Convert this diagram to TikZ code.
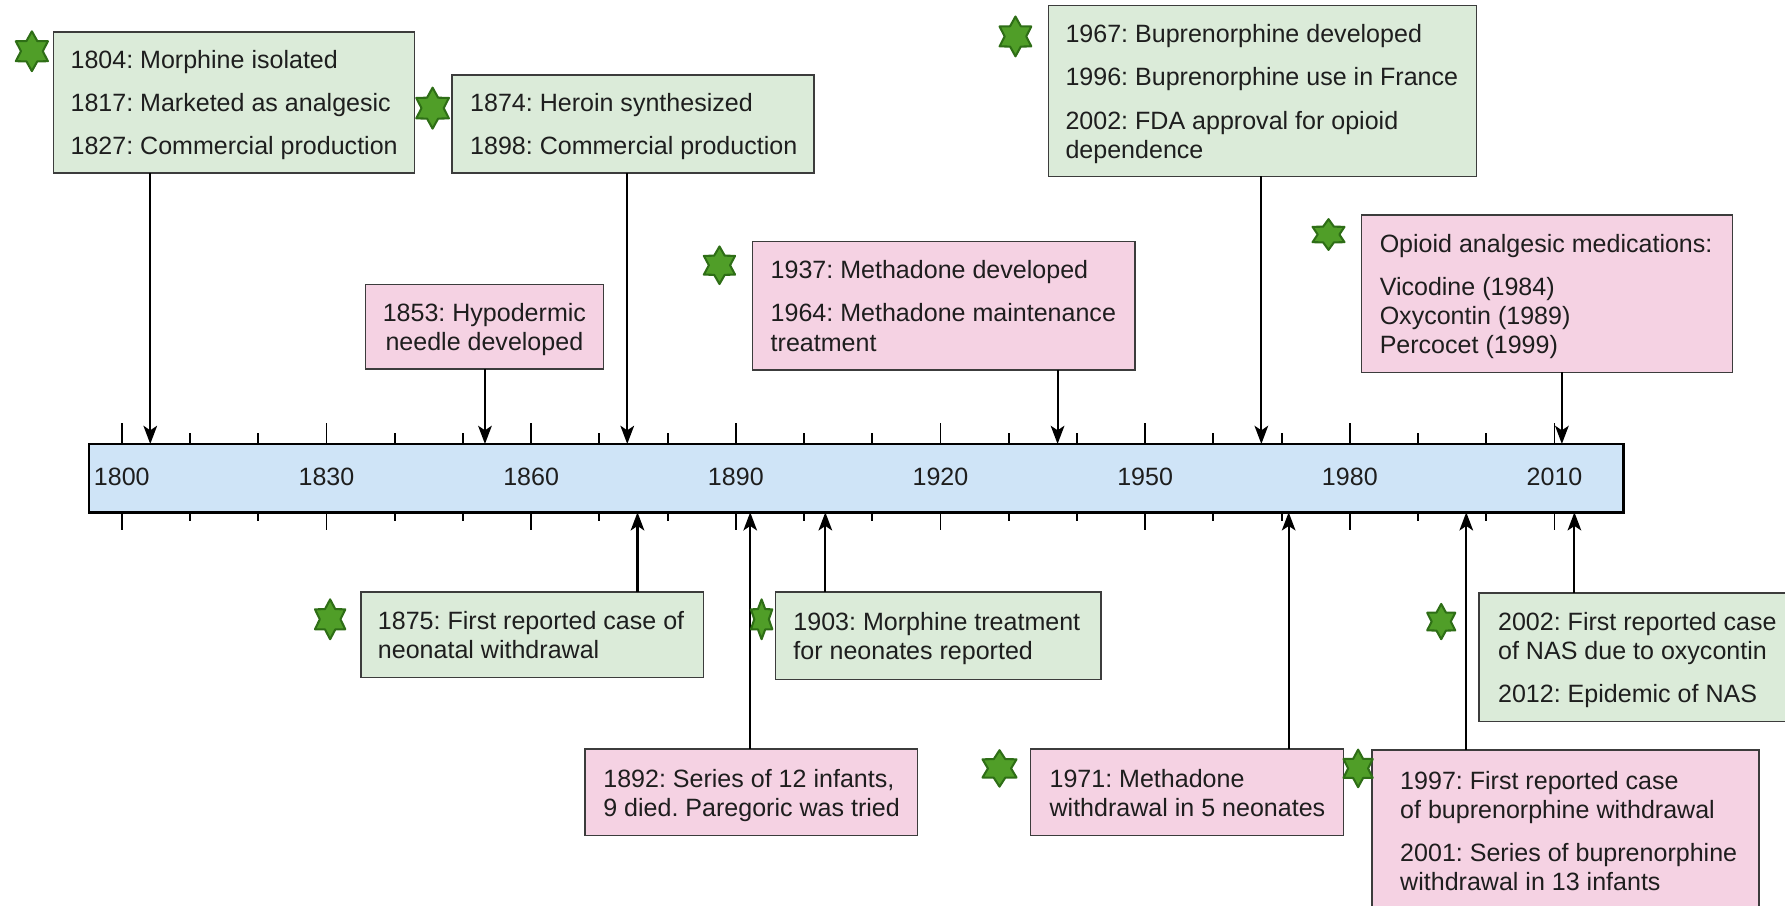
\documentclass[tikz,border=0pt]{standalone}
\usepackage{fontspec}
\setmainfont{Liberation Sans}
\usetikzlibrary{arrows.meta,shapes.geometric}
\definecolor{gfill}{RGB}{219,235,217}
\definecolor{pfill}{RGB}{245,210,227}
\definecolor{bfill}{RGB}{207,228,247}
\definecolor{bord}{RGB}{60,60,60}
\definecolor{txt}{RGB}{30,30,30}
\definecolor{starfill}{RGB}{80,158,40}
\definecolor{stardraw}{RGB}{46,110,22}
\newcommand\lbox[2]{\raisebox{-3pt}[\height][\depth]{\makebox[#1][l]{\begin{tabular}{@{}l@{}}#2\end{tabular}}}}
\newcommand\cbox[2]{\raisebox{-3pt}[\height][\depth]{\makebox[#1][c]{\begin{tabular}{@{}c@{}}#2\end{tabular}}}}
\frenchspacing
\begin{document}
\begin{tikzpicture}[x=1pt,y=-1pt,
  font=\fontsize{22}{25.5}\selectfont\frenchspacing,
  evbox/.style={draw=bord, line width=1.3pt, anchor=north west, inner ysep=0pt, outer sep=0pt, text=txt},
  gbox/.style={evbox, fill=gfill},
  pbox/.style={evbox, fill=pfill},
  arr/.style={draw=black, line width=1.8pt, -{Stealth[length=16pt,width=12pt,inset=4pt]}},
  tickmark/.style={draw=black, line width=1.6pt},
  hexstar/.style={star, star points=6, star point ratio=1.7, fill=starfill, draw=stardraw, line width=1.8pt, line join=round, inner sep=0pt, outer sep=0pt},
  yearlbl/.style={inner sep=0pt, text=txt},
]
\useasboundingbox (0,0) rectangle (1568,795);
\fill[white] (0,0) rectangle (1568,795);

% timeline bar
\node[draw=black, line width=2.2pt, fill=bfill, anchor=north west, minimum width=1348pt, minimum height=60pt, inner sep=0pt, outer sep=0pt] (bar) at (78,390) {};
\foreach \yr in {1800,1830,...,2010}{
  \draw[tickmark] ({107+(\yr-1800)*5.993},390) -- ++(0,-18);
  \draw[tickmark] ({107+(\yr-1800)*5.993},450) -- ++(0,16);
  \node[yearlbl] (y\yr) at ({107+(\yr-1800)*5.993},419) {\yr};
}
\foreach \yr in {1810,1820,1840,1850,1870,1880,1900,1910,1930,1940,1960,1970,1990,2000}{
  \draw[tickmark] ({107+(\yr-1800)*5.993},390) -- ++(0,-10);
  \draw[tickmark] ({107+(\yr-1800)*5.993},450) -- ++(0,8);
}

% top boxes
\node[gbox, inner xsep=15pt, minimum height=124pt] (A) at (47,28)
  {\lbox{287pt}{1804: Morphine isolated\\[12.5pt] 1817: Marketed as analgesic\\[12.5pt] 1827: Commercial production}};
\node[gbox, inner xsep=16pt, minimum height=86pt] (B) at (397,66)
  {\lbox{286pt}{1874: Heroin synthesized\\[12.5pt] 1898: Commercial production}};
\node[gbox, inner xsep=15pt, minimum height=150pt] (C) at (921,5)
  {\lbox{346pt}{1967: Buprenorphine developed\\[12.5pt] 1996: Buprenorphine use in France\\[12.5pt] 2002: FDA approval for opioid\\ dependence}};
\node[pbox, inner xsep=10pt, minimum height=74pt] (D) at (321,250)
  {\cbox{189pt}{1853: Hypodermic\\ needle developed}};
\node[pbox, inner xsep=16pt, minimum height=113pt] (E) at (661,212)
  {\lbox{304pt}{1937: Methadone developed\\[12.5pt] 1964: Methadone maintenance\\ treatment}};
\node[pbox, inner xsep=16pt, minimum height=138pt] (F) at (1196,189)
  {\lbox{294pt}{Opioid analgesic medications:\\[12.5pt] Vicodine (1984)\\ Oxycontin (1989)\\ Percocet (1999)}};

% bottom boxes
\node[gbox, inner xsep=15pt, minimum height=75pt] (G) at (317,520)
  {\lbox{271pt}{1875: First reported case of\\ neonatal withdrawal}};
\node[gbox, inner xsep=16pt, minimum height=77pt] (H) at (681,520)
  {\lbox{254pt}{1903: Morphine treatment\\ for neonates reported}};
\node[gbox, inner xsep=17pt, minimum height=113pt] (I) at (1299,521)
  {\lbox{241pt}{2002: First reported case\\ of NAS due to oxycontin\\[12.5pt] 2012: Epidemic of NAS}};
\node[pbox, inner xsep=16pt, minimum height=76pt] (J) at (514,658)
  {\lbox{260pt}{1892: Series of 12 infants,\\ 9 died. Paregoric was tried}};
\node[pbox, inner xsep=17pt, minimum height=76pt] (K) at (905,658)
  {\lbox{241pt}{1971: Methadone\\ withdrawal in 5 neonates}};
\node[pbox, inner xsep=25pt, minimum height=142pt] (L) at (1205,659)
  {\lbox{290pt}{1997: First reported case\\ of buprenorphine withdrawal\\[12.5pt] 2001: Series of buprenorphine\\ withdrawal in 13 infants}};

% timeline points
\coordinate (tA) at (132,390);
\coordinate (tB) at (551,390);
\coordinate (tD) at (426,390);
\coordinate (tE) at (929,390);
\coordinate (tC) at (1108,390);
\coordinate (tF) at (1372,390);
\coordinate (bG) at (560,450);
\coordinate (bJ) at (659,450);
\coordinate (bH) at (725,450);
\coordinate (bK) at (1132,450);
\coordinate (bL) at (1288,450);
\coordinate (bI) at (1383,450);

\draw[arr] (A.south -| tA) -- (tA);
\draw[arr] (B.south -| tB) -- (tB);
\draw[arr] (D.south -| tD) -- (tD);
\draw[arr] (E.south -| tE) -- (tE);
\draw[arr] (C.south -| tC) -- (tC);
\draw[arr] (F.south -| tF) -- (tF);
\draw[arr] (G.north -| bG) -- (bG);
\draw[arr] (J.north -| bJ) -- (bJ);
\draw[arr] (H.north -| bH) -- (bH);
\draw[arr] (K.north -| bK) -- (bK);
\draw[arr] (L.north -| bL) -- (bL);
\draw[arr] (I.north -| bI) -- (bI);

% stars
\node[hexstar, minimum size=35pt, xscale=0.93] (s1) at (28,45) {};
\node[hexstar, minimum size=36pt, xscale=0.92] (s2) at (380,95) {};
\node[hexstar, minimum size=35pt, xscale=0.92] (s3) at (892,32) {};
\node[hexstar, minimum size=33pt, xscale=0.96] (s4) at (632,233) {};
\node[hexstar, minimum size=27pt, xscale=1.2] (s5) at (1167,206) {};
\node[hexstar, minimum size=35pt, xscale=0.88] (s6) at (290,544) {};
\node[hexstar, minimum size=35pt, xscale=0.62] (s7) at (669,544) {};
\node[hexstar, minimum size=31pt, xscale=0.92] (s8) at (1266,546) {};
\node[hexstar, minimum size=32pt, xscale=1.08] (s9) at (878,675) {};
\node[hexstar, minimum size=33pt, xscale=0.9] (s10) at (1193,675) {};
\end{tikzpicture}
\end{document}
